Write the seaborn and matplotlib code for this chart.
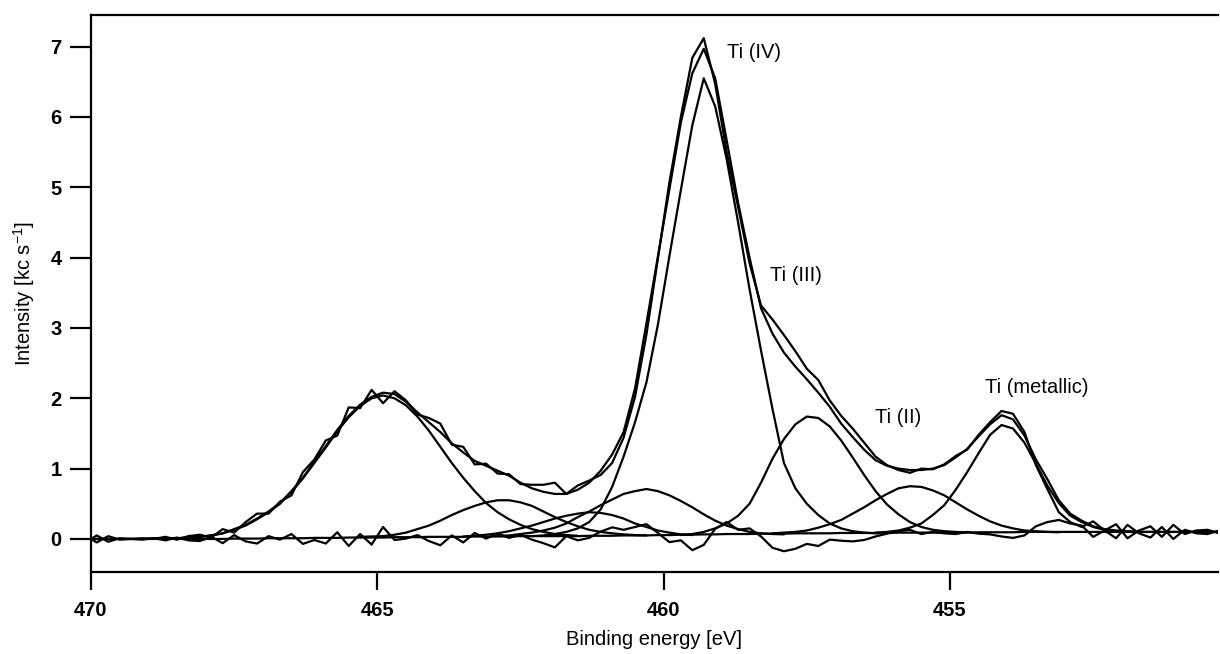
import numpy as np
import pandas as pd
import matplotlib
matplotlib.use("Agg")
import matplotlib.pyplot as plt
import seaborn as sns

# binding energy grid of the scan, 0.2 eV steps (470.1 ... 450.1 eV)
energy = np.round(np.arange(470.1, 450.0, -0.2), 1)

measured = [
    0.05, -0.05, 0.04, -0.01, 0.00, 0.01, 0.00, 0.03, -0.01, 0.04,
    0.06, 0.02, 0.14, 0.09, 0.24, 0.36, 0.36, 0.53, 0.62, 0.95,
    1.13, 1.40, 1.47, 1.87, 1.86, 2.12, 1.93, 2.10, 1.97, 1.77,
    1.72, 1.64, 1.34, 1.31, 1.06, 1.07, 0.93, 0.92, 0.78, 0.77,
    0.77, 0.80, 0.64, 0.76, 0.83, 0.91, 1.08, 1.44, 2.02, 2.91,
    3.99, 5.07, 6.00, 6.84, 7.12, 6.47, 5.50, 4.72, 3.92, 3.32,
    3.12, 2.90, 2.67, 2.42, 2.26, 1.97, 1.75, 1.57, 1.37, 1.17,
    1.05, 0.98, 0.94, 1.00, 0.99, 1.06, 1.18, 1.27, 1.48, 1.66,
    1.82, 1.78, 1.52, 1.05, 0.71, 0.38, 0.24, 0.17, 0.25, 0.12,
    0.21, 0.01, 0.12, 0.18, 0.03, 0.20, 0.07, 0.12, 0.13, 0.08,
    0.12,
]

# sum of the fitted peaks
fit_envelope = [
    0.00, 0.00, 0.00, 0.00, 0.00, 0.00, 0.01, 0.01, 0.01, 0.02,
    0.03, 0.05, 0.08, 0.14, 0.20, 0.29, 0.39, 0.51, 0.68, 0.87,
    1.10, 1.32, 1.55, 1.75, 1.91, 2.02, 2.08, 2.06, 1.95, 1.80,
    1.66, 1.52, 1.36, 1.23, 1.11, 1.04, 0.97, 0.90, 0.80, 0.72,
    0.67, 0.64, 0.64, 0.70, 0.80, 0.97, 1.20, 1.52, 2.14, 3.07,
    4.02, 4.97, 5.92, 6.62, 6.97, 6.55, 5.67, 4.78, 4.00, 3.28,
    2.92, 2.65, 2.45, 2.27, 2.08, 1.88, 1.64, 1.45, 1.27, 1.12,
    1.04, 1.00, 0.98, 0.98, 1.00, 1.05, 1.16, 1.28, 1.46, 1.63,
    1.76, 1.70, 1.47, 1.13, 0.85, 0.55, 0.36, 0.26, 0.18, 0.14,
    0.12, 0.11, 0.10, 0.10, 0.10, 0.10, 0.10, 0.10, 0.10, 0.10,
    0.10,
]

# background under the peaks
background = [
    0, 0, 0, 0, 0, 0, 0, 0, 0, 0,
    0, 0, 0, 0.005, 0.005, 0.005, 0.01, 0.01, 0.01, 0.01,
    0.015, 0.015, 0.015, 0.02, 0.02, 0.02, 0.02, 0.025, 0.025, 0.025,
    0.03, 0.03, 0.03, 0.03, 0.035, 0.035, 0.035, 0.035, 0.04, 0.04,
    0.04, 0.04, 0.04, 0.04, 0.045, 0.045, 0.045, 0.05, 0.05, 0.05,
    0.055, 0.055, 0.06, 0.06, 0.065, 0.065, 0.07, 0.07, 0.07, 0.075,
    0.075, 0.075, 0.08, 0.08, 0.08, 0.08, 0.085, 0.085, 0.085, 0.085,
    0.085, 0.09, 0.09, 0.09, 0.09, 0.09, 0.09, 0.09, 0.095, 0.095,
    0.095, 0.095, 0.1, 0.1, 0.1, 0.1, 0.1, 0.1, 0.1, 0.1,
    0.1, 0.1, 0.1, 0.1, 0.1, 0.1, 0.1, 0.1, 0.1, 0.1,
    0.1,
]

# fitted components: first energy on the grid + values from there on
ti4_p12_start = 468.9
ti4_p12 = [0.00, 0.01, 0.01, 0.02, 0.03, 0.05, 0.08, 0.13, 0.19, 0.28,
           0.38, 0.50, 0.67, 0.86, 1.08, 1.30, 1.53, 1.73, 1.89, 2.00,
           2.04, 2.00, 1.90, 1.74, 1.54, 1.31, 1.08, 0.87, 0.68, 0.51,
           0.38, 0.28, 0.20, 0.14, 0.10, 0.07, 0.055, 0.045]
ti3_p12_start = 465.3
ti3_p12 = [0.03, 0.035, 0.04, 0.06, 0.09, 0.14, 0.19, 0.26, 0.34, 0.41,
           0.47, 0.52, 0.55, 0.55, 0.52, 0.47, 0.39, 0.31, 0.24, 0.18,
           0.13, 0.10, 0.08, 0.065, 0.055, 0.05]
ti2_p12_start = 463.5
ti2_p12 = [0.035, 0.045, 0.06, 0.08, 0.11, 0.15, 0.19, 0.24, 0.29, 0.33,
           0.36, 0.38, 0.37, 0.34, 0.29, 0.22, 0.17, 0.12, 0.09, 0.065,
           0.055]
ti0_p12_start = 462.9
ti0_p12 = [0.045, 0.05, 0.07, 0.09, 0.12, 0.16, 0.22, 0.31, 0.39, 0.48,
           0.56, 0.64, 0.68, 0.71, 0.68, 0.62, 0.54, 0.45, 0.35, 0.26,
           0.19, 0.14, 0.10, 0.08, 0.07, 0.065]
ti4_p32_start = 462.3
ti4_p32 = [0.04, 0.05, 0.07, 0.10, 0.15, 0.24, 0.42, 0.74, 1.17, 1.66,
           2.23, 3.05, 4.02, 4.96, 5.88, 6.55, 6.15, 5.40, 4.50, 3.55,
           2.68, 1.85, 1.08, 0.72, 0.50, 0.34, 0.22, 0.15, 0.11, 0.09,
           0.08, 0.08]
ti3_p32_start = 459.7
ti3_p32 = [0.055, 0.07, 0.10, 0.15, 0.22, 0.33, 0.50, 0.80, 1.14, 1.42,
           1.63, 1.74, 1.72, 1.60, 1.40, 1.16, 0.91, 0.68, 0.49, 0.35,
           0.24, 0.17, 0.13, 0.11, 0.10, 0.095]
ti2_p32_start = 458.1
ti2_p32 = [0.08, 0.09, 0.10, 0.12, 0.16, 0.21, 0.27, 0.36, 0.45, 0.55,
           0.64, 0.72, 0.75, 0.74, 0.69, 0.62, 0.52, 0.42, 0.33, 0.25,
           0.19, 0.15, 0.12, 0.11, 0.10, 0.095]
ti0_p32_start = 456.3
ti0_p32 = [0.09, 0.10, 0.12, 0.16, 0.22, 0.34, 0.48, 0.70, 0.95, 1.22,
           1.48, 1.62, 1.57, 1.37, 1.07, 0.76, 0.51, 0.33, 0.24, 0.17,
           0.13, 0.11, 0.10, 0.10]

peak_labels = ["Ti (IV)", "Ti (III)", "Ti (II)", "Ti (metallic)"]
label_x = [458.89, 458.14, 456.31, 454.39]
label_y = [6.92, 3.74, 1.73, 2.15]

x_ticks = [470, 465, 460, 455]
y_ticks = [0, 1, 2, 3, 4, 5, 6, 7]


def on_grid(start, values):
    i0 = int(np.argmin(np.abs(energy - start)))
    return energy[i0:i0 + len(values)]


components = {
    "ti4_p12": (ti4_p12_start, ti4_p12),
    "ti3_p12": (ti3_p12_start, ti3_p12),
    "ti2_p12": (ti2_p12_start, ti2_p12),
    "ti0_p12": (ti0_p12_start, ti0_p12),
    "ti4_p32": (ti4_p32_start, ti4_p32),
    "ti3_p32": (ti3_p32_start, ti3_p32),
    "ti2_p32": (ti2_p32_start, ti2_p32),
    "ti0_p32": (ti0_p32_start, ti0_p32),
}
comp_df = pd.concat(
    [pd.DataFrame({"energy": on_grid(s, v), "intensity": v, "component": name})
     for name, (s, v) in components.items()],
    ignore_index=True,
)

# residual drawn on top of the background: background + fit - data
residual = np.array(background) + np.array(fit_envelope) - np.array(measured)

sns.set_theme(style="ticks")
plt.rcParams["font.family"] = ["Liberation Sans", "DejaVu Sans"]
plt.rcParams["mathtext.default"] = "regular"
plt.rcParams["text.color"] = "black"
plt.rcParams["axes.labelcolor"] = "black"

fig = plt.figure(figsize=(12.2, 6.54), dpi=100)
ax = fig.add_axes([91 / 1220, 82 / 654, 1127 / 1220, 557 / 654])

lw = 1.6
sns.lineplot(data=comp_df, x="energy", y="intensity", units="component",
             estimator=None, color="black", lw=lw, ax=ax, legend=False)
sns.lineplot(x=energy, y=fit_envelope, color="black", lw=lw, ax=ax)
sns.lineplot(x=energy, y=measured, color="black", lw=lw, ax=ax)
sns.lineplot(x=energy, y=background, color="black", lw=lw, ax=ax)
sns.lineplot(x=energy, y=residual, color="black", lw=lw, ax=ax)

for txt, xe, yi in zip(peak_labels, label_x, label_y):
    ax.text(xe, yi, txt, ha="left", va="center", fontsize=14.5, color="black")

ax.set_xlim(470, 450.32)
ax.set_ylim(-0.47, 7.45)
ax.set_xticks(x_ticks)
ax.set_yticks(y_ticks)
ax.set_xticklabels([str(t) for t in x_ticks], fontweight="bold")
ax.set_yticklabels([str(t) for t in y_ticks], fontweight="bold")
ax.tick_params(axis="y", direction="out", length=15, width=1.6, pad=6,
               labelsize=14.5, color="black", labelcolor="black")
ax.tick_params(axis="x", direction="out", length=13, width=1.6, pad=8,
               labelsize=14.5, color="black", labelcolor="black")

for side in ["left", "bottom", "top"]:
    ax.spines[side].set_linewidth(1.6)
    ax.spines[side].set_color("black")
ax.spines["right"].set_visible(False)

ax.set_xlabel("Binding energy [eV]", fontsize=14.5, labelpad=7)
ax.set_ylabel("Intensity [kc s$^{-1}$]", fontsize=14.5, labelpad=10)

fig.savefig("out.png", dpi=100)
